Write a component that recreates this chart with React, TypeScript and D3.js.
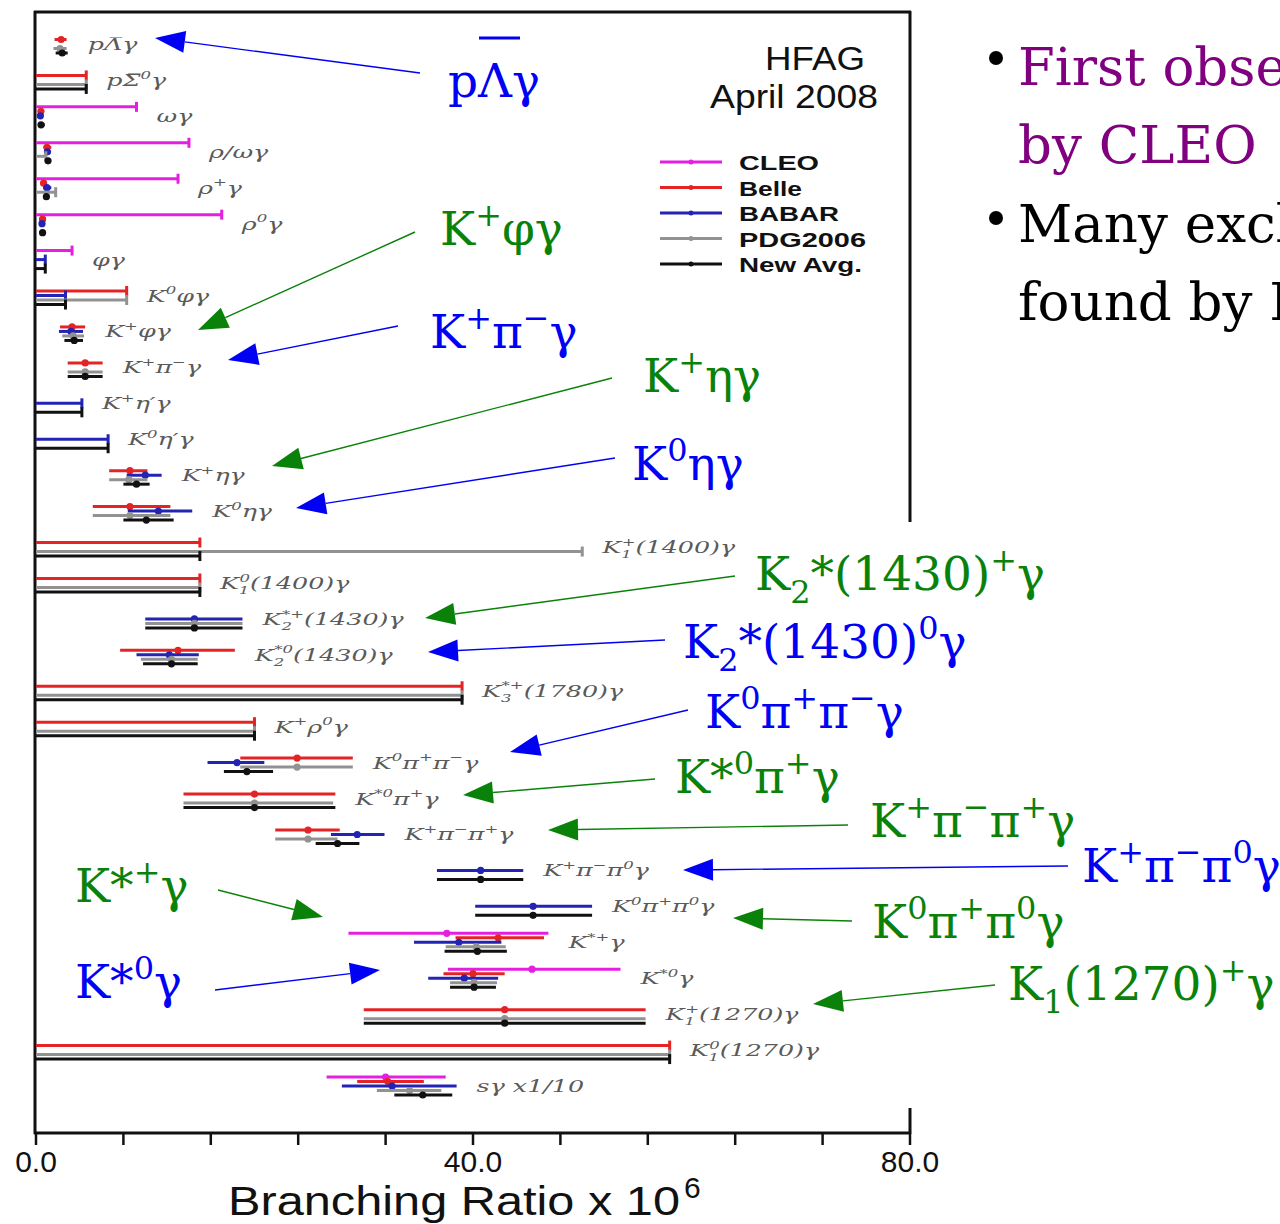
import React from 'react';
import * as d3 from 'd3';

type Pt = null | { v: number; lo: number; hi: number } | { ul: number };

const categories = [
  'pLambdaGamma', 'pSigma0Gamma', 'omegaGamma', 'rhoOmegaGamma', 'rhoPlusGamma', 'rho0Gamma', 'phiGamma',
  'K0phiGamma', 'KplusPhiGamma', 'KplusPiMinusGamma', 'KplusEtaPrimeGamma', 'K0EtaPrimeGamma',
  'KplusEtaGamma', 'K0EtaGamma', 'K1plus1400', 'K10_1400', 'K2starPlus1430', 'K2star0_1430',
  'K3starPlus1780', 'KplusRho0Gamma', 'K0PiPlusPiMinusGamma', 'Kstar0PiPlusGamma', 'KplusPiMinusPiPlusGamma',
  'KplusPiMinusPi0Gamma', 'K0PiPlusPi0Gamma', 'KstarPlusGamma', 'Kstar0Gamma', 'K1plus1270', 'K10_1270', 'sGamma',
];

const rowLabels = [
  'pΛ\u0305γ', 'pΣ\u0305^{0}γ', 'ωγ', 'ρ/ωγ', 'ρ^{+}γ', 'ρ^{0}γ', 'φγ',
  'K^{0}φγ', 'K^{+}φγ', 'K^{+}π^{−}γ', 'K^{+}η′γ', 'K^{0}η′γ',
  'K^{+}ηγ', 'K^{0}ηγ', 'K_{1}^{+}(1400)γ', 'K_{1}^{0}(1400)γ', 'K_{2}^{*+}(1430)γ', 'K_{2}^{*0}(1430)γ',
  'K_{3}^{*+}(1780)γ', 'K^{+}ρ^{0}γ', 'K^{0}π^{+}π^{−}γ', 'K^{*0}π^{+}γ', 'K^{+}π^{−}π^{+}γ',
  'K^{+}π^{−}π^{0}γ', 'K^{0}π^{+}π^{0}γ', 'K^{*+}γ', 'K^{*0}γ', 'K_{1}^{+}(1270)γ', 'K_{1}^{0}(1270)γ', 'sγ x1/10',
];

const cleo: Pt[] = [
  null, null, { ul: 9.2 }, { ul: 14 }, { ul: 13 }, { ul: 17 }, { ul: 3.3 },
  null, null, null, null, null, null, null, null, null, null, null, null, null, null, null, null, null, null,
  { v: 37.6, lo: 28.6, hi: 46.9 }, { v: 45.4, lo: 37.7, hi: 53.5 }, null, null,
  { v: 32.0, lo: 26.6, hi: 37.5 },
];

const belle: Pt[] = [
  { v: 2.3, lo: 1.7, hi: 2.8 }, { ul: 4.6 }, { v: 0.45, lo: 0.2, hi: 0.7 }, { v: 1.0, lo: 0.7, hi: 1.4 },
  { v: 0.7, lo: 0.4, hi: 1.0 }, { v: 0.6, lo: 0.3, hi: 0.9 }, null,
  { ul: 8.3 }, { v: 3.3, lo: 2.2, hi: 4.5 }, { v: 4.5, lo: 2.9, hi: 6.1 }, null, null,
  { v: 8.6, lo: 6.7, hi: 10.2 }, { v: 8.6, lo: 5.2, hi: 12.3 }, { ul: 15 }, { ul: 15 }, null,
  { v: 13.0, lo: 7.7, hi: 18.2 }, { ul: 39 }, { ul: 20 }, { v: 23.9, lo: 18.7, hi: 29.0 },
  { v: 20.0, lo: 13.5, hi: 27.4 }, { v: 24.9, lo: 21.9, hi: 27.8 }, null, null,
  { v: 42.3, lo: 38.4, hi: 46.5 }, { v: 40.0, lo: 37.3, hi: 42.9 }, { v: 42.9, lo: 30.0, hi: 55.8 },
  { ul: 58 }, { v: 32.2, lo: 29.4, hi: 35.5 },
];

const babar: Pt[] = [
  null, null, { v: 0.4, lo: 0.15, hi: 0.65 }, { v: 1.05, lo: 0.8, hi: 1.3 }, { v: 1.0, lo: 0.65, hi: 1.4 },
  { v: 0.55, lo: 0.35, hi: 0.8 }, { ul: 0.85 },
  { ul: 2.7 }, { v: 3.2, lo: 2.1, hi: 4.3 }, null, { ul: 4.2 }, { ul: 6.6 },
  { v: 10.0, lo: 8.3, hi: 11.5 }, { v: 11.2, lo: 8.4, hi: 14.3 }, null, null, { v: 14.5, lo: 10.0, hi: 18.9 },
  { v: 12.2, lo: 9.2, hi: 14.9 }, null, null, { v: 18.4, lo: 15.7, hi: 20.9 },
  null, { v: 29.4, lo: 27.0, hi: 31.9 }, { v: 40.7, lo: 36.7, hi: 44.6 }, { v: 45.5, lo: 40.2, hi: 50.9 },
  { v: 38.7, lo: 34.6, hi: 42.6 }, { v: 39.2, lo: 35.9, hi: 42.3 }, null, null,
  { v: 32.6, lo: 28.0, hi: 38.5 },
];

const pdg2006: Pt[] = [
  { v: 2.2, lo: 1.6, hi: 2.8 }, { ul: 4.6 }, null, { ul: 0.9 }, { ul: 1.8 }, null, null,
  { ul: 8.3 }, { v: 3.4, lo: 2.4, hi: 4.4 }, { v: 4.5, lo: 2.9, hi: 6.1 }, null, null,
  { v: 8.5, lo: 6.7, hi: 10.2 }, { v: 8.6, lo: 5.2, hi: 12.3 }, { ul: 50 }, { ul: 15 }, { v: 14.5, lo: 10.0, hi: 18.9 },
  { v: 12.4, lo: 9.6, hi: 14.8 }, { ul: 39 }, { ul: 20 }, { v: 23.9, lo: 18.7, hi: 29.0 },
  { v: 20.0, lo: 13.5, hi: 27.2 }, { v: 24.9, lo: 21.9, hi: 27.6 }, null, null,
  { v: 40.3, lo: 37.5, hi: 43.0 }, { v: 40.1, lo: 37.9, hi: 42.2 }, { v: 42.9, lo: 30.0, hi: 55.8 },
  { ul: 58 }, { v: 34.2, lo: 31.2, hi: 37.1 },
];

const newAvg: Pt[] = [
  { v: 2.4, lo: 1.8, hi: 2.9 }, { ul: 4.6 }, { v: 0.46, lo: 0.2, hi: 0.8 }, { v: 1.1, lo: 0.85, hi: 1.35 },
  { v: 0.95, lo: 0.7, hi: 1.2 }, { v: 0.6, lo: 0.45, hi: 0.8 }, { ul: 0.85 },
  { ul: 2.7 }, { v: 3.5, lo: 2.6, hi: 4.3 }, { v: 4.5, lo: 2.9, hi: 6.1 }, { ul: 4.2 }, { ul: 6.6 },
  { v: 9.2, lo: 8.0, hi: 10.4 }, { v: 10.1, lo: 8.0, hi: 12.6 }, { ul: 15 }, { ul: 15 }, { v: 14.5, lo: 10.0, hi: 18.9 },
  { v: 12.4, lo: 9.8, hi: 14.8 }, { ul: 39 }, { ul: 20 }, { v: 19.3, lo: 17.2, hi: 21.7 },
  { v: 20.0, lo: 13.5, hi: 27.4 }, { v: 27.6, lo: 25.6, hi: 29.6 }, { v: 40.7, lo: 36.7, hi: 44.6 },
  { v: 45.5, lo: 40.2, hi: 50.9 }, { v: 40.4, lo: 37.4, hi: 43.1 }, { v: 40.1, lo: 37.9, hi: 42.1 },
  { v: 42.9, lo: 30.0, hi: 55.8 }, { ul: 58 }, { v: 35.4, lo: 32.8, hi: 38.1 },
];

const seriesNames = ['CLEO', 'Belle', 'BABAR', 'PDG2006', 'New Avg.'];
const seriesData = [cleo, belle, babar, pdg2006, newAvg];
const xDomain = [0, 80];
const xTickStep = 8;
const xTickLabels = [0, 40, 80];

// ---- styling / layout (not data) ----
const seriesColors = ['#e41fe0', '#e42424', '#2424b4', '#929292', '#111111'];
const seriesOffsets = [-9, -4.5, 0, 4.5, 9];
const legendWidths = [80, 63, 100, 127, 123];
const GREEN = '#0a820a';
const BLUE = '#0000f5';
const ANN_FS = 47;

const annotations = [
  { t: 'pΛγ', c: BLUE, x: 448, y: 97, from: [420, 73], to: [155, 38], over: true },
  { t: 'K^{+}φγ', c: GREEN, x: 440, y: 245, from: [415, 232], to: [198, 330] },
  { t: 'K^{+}π^{−}γ', c: BLUE, x: 430, y: 348, from: [398, 326], to: [228, 360] },
  { t: 'K^{+}ηγ', c: GREEN, x: 643, y: 392, from: [612, 378], to: [272, 466] },
  { t: 'K^{0}ηγ', c: BLUE, x: 632, y: 480, from: [615, 458], to: [296, 508] },
  { t: 'K_{2}*(1430)^{+}γ', c: GREEN, x: 755, y: 590, from: [735, 576], to: [425, 618] },
  { t: 'K_{2}*(1430)^{0}γ', c: BLUE, x: 683, y: 658, from: [665, 640], to: [428, 652] },
  { t: 'K^{0}π^{+}π^{−}γ', c: BLUE, x: 705, y: 728, from: [688, 710], to: [510, 752] },
  { t: 'K*^{0}π^{+}γ', c: GREEN, x: 675, y: 793, from: [655, 779], to: [463, 795] },
  { t: 'K^{+}π^{−}π^{+}γ', c: GREEN, x: 870, y: 837, from: [848, 825], to: [548, 830] },
  { t: 'K^{+}π^{−}π^{0}γ', c: BLUE, x: 1082, y: 882, from: [1068, 866], to: [683, 870] },
  { t: 'K^{0}π^{+}π^{0}γ', c: GREEN, x: 872, y: 938, from: [852, 921], to: [733, 918] },
  { t: 'K_{1}(1270)^{+}γ', c: GREEN, x: 1008, y: 1000, from: [995, 985], to: [813, 1004] },
  { t: 'K*^{+}γ', c: GREEN, x: 75, y: 902, from: [218, 890], to: [323, 917] },
  { t: 'K*^{0}γ', c: BLUE, x: 75, y: 998, from: [215, 990], to: [380, 970] },
];

function parseMarkup(text: string) {
  return text.split(/(\^\{[^}]*\}|_\{[^}]*\})/).filter((p) => p.length > 0).map((p) => {
    if (p.startsWith('^{')) return { kind: 'sup', t: p.slice(2, -1) };
    if (p.startsWith('_{')) return { kind: 'sub', t: p.slice(2, -1) };
    return { kind: 'n', t: p };
  });
}

function Markup(props: { text: string; fs: number; supScale?: number; supRise?: number; subDrop?: number; cw?: number }) {
  const { text, fs } = props;
  const supScale = props.supScale ?? 0.65;
  const supRise = props.supRise ?? 0.42;
  const subDrop = props.subDrop ?? 0.3;
  const cw = props.cw ?? 0.6;
  const parts = parseMarkup(text);
  let cur = 0;
  let prevKind = 'n';
  let subLen = 0;
  let supLen = 0;
  let stacked = false;
  return (
    <>
      {parts.map((p, i) => {
        const target = p.kind === 'sup' ? -supRise * fs : p.kind === 'sub' ? subDrop * fs : 0;
        const dy = target - cur;
        cur = target;
        const size = p.kind === 'n' ? fs : fs * supScale;
        const len = p.t.length * size * cw;
        let dx = 0;
        if (p.kind === 'sup' && prevKind === 'sub') {
          dx = -subLen;
          stacked = true;
          supLen = len;
        } else if (p.kind === 'n' && stacked) {
          dx = Math.max(0, subLen - supLen);
          stacked = false;
        }
        if (p.kind === 'sub') subLen = len;
        prevKind = p.kind;
        return (
          <tspan key={i} dy={dy} dx={dx} fontSize={size}>
            {p.t}
          </tspan>
        );
      })}
    </>
  );
}

function Arrow({ from, to, color }: { from: number[]; to: number[]; color: string }) {
  const dx = to[0] - from[0];
  const dy = to[1] - from[1];
  const L = Math.sqrt(dx * dx + dy * dy);
  const ux = dx / L;
  const uy = dy / L;
  const hl = 30;
  const hw = 11;
  const bx = to[0] - ux * hl;
  const by = to[1] - uy * hl;
  const px = -uy;
  const py = ux;
  const pts = [
    [to[0], to[1]],
    [bx + px * hw, by + py * hw],
    [bx - px * hw, by - py * hw],
  ];
  return (
    <g>
      <line x1={from[0]} y1={from[1]} x2={bx} y2={by} stroke={color} strokeWidth={1.4} />
      <polygon points={pts.map((q) => q.join(',')).join(' ')} fill={color} />
    </g>
  );
}

export default function App() {
  const W = 1280;
  const H = 1224;
  const x = d3.scaleLinear().domain(xDomain).range([36, 910]);
  const y = d3.scalePoint<string>().domain(categories).range([44, 1086]);
  const ticks = d3.range(xDomain[0], xDomain[1] + 0.001, xTickStep);
  const axisY = 1133;

  const rowMax = categories.map((_, i) =>
    d3.max(seriesData, (s) => {
      const p = s[i];
      if (!p) return 0;
      return 'ul' in p ? p.ul : p.hi;
    }) as number,
  );

  return (
    <svg width={W} height={H} style={{ position: 'absolute', left: 0, top: 0, background: '#fff' }}>
      <rect x={0} y={0} width={W} height={H} fill="#fff" />
      {/* frame */}
      <line x1={34} y1={12} x2={911} y2={12} stroke="#111" strokeWidth={3} />
      <line x1={35} y1={11} x2={35} y2={axisY + 1} stroke="#111" strokeWidth={3} />
      <line x1={910} y1={11} x2={910} y2={522} stroke="#111" strokeWidth={3} />
      <line x1={910} y1={1108} x2={910} y2={axisY + 1} stroke="#111" strokeWidth={3} />
      <line x1={34} y1={axisY} x2={911} y2={axisY} stroke="#111" strokeWidth={3} />
      {ticks.map((t) => (
        <line key={t} x1={x(t)} x2={x(t)} y1={axisY} y2={axisY + 12} stroke="#111" strokeWidth={2.5} />
      ))}
      {xTickLabels.map((t) => (
        <text key={t} x={x(t)} y={1172} textAnchor="middle" fontFamily="Liberation Sans, Arial, sans-serif" fontSize={30} fill="#111">
          {t.toFixed(1)}
        </text>
      ))}
      <text x={228} y={1215} fontFamily="Liberation Sans, Arial, sans-serif" fontSize={40} fill="#111" textLength={452} lengthAdjust="spacingAndGlyphs">
        Branching Ratio x 10
      </text>
      <text x={684} y={1198} fontFamily="Liberation Sans, Arial, sans-serif" fontSize={30} fill="#111">6</text>

      {/* data */}
      {seriesData.map((s, si) => (
        <g key={seriesNames[si]}>
          {s.map((p, i) => {
            if (!p) return null;
            const yy = (y(categories[i]) as number) + seriesOffsets[si];
            const col = seriesColors[si];
            if ('ul' in p) {
              return (
                <g key={i}>
                  <line x1={x(0)} x2={x(p.ul)} y1={yy} y2={yy} stroke={col} strokeWidth={3} />
                  <line x1={x(p.ul)} x2={x(p.ul)} y1={yy - 5} y2={yy + 5} stroke={col} strokeWidth={3} />
                </g>
              );
            }
            return (
              <g key={i}>
                <line x1={x(p.lo)} x2={x(p.hi)} y1={yy} y2={yy} stroke={col} strokeWidth={3} />
                <circle cx={x(p.v)} cy={yy} r={3.6} fill={col} />
              </g>
            );
          })}
        </g>
      ))}

      {/* row labels */}
      {categories.map((c, i) => {
        const lx = x(rowMax[i]) + 20;
        const ly = (y(c) as number) + 6;
        return (
          <text
            key={c}
            transform={`translate(${lx},${ly}) scale(1.45,1)`}
            fontFamily="DejaVu Serif, serif"
            fontStyle="italic"
            fontSize={17.5}
            fill="#5a5a5a"
          >
            <Markup text={rowLabels[i]} fs={17.5} />
          </text>
        );
      })}

      {/* HFAG */}
      <text x={765} y={70} fontFamily="Liberation Sans, Arial, sans-serif" fontSize={34} fill="#111" textLength={100} lengthAdjust="spacingAndGlyphs">HFAG</text>
      <text x={710} y={108} fontFamily="Liberation Sans, Arial, sans-serif" fontSize={33} fill="#111" textLength={168} lengthAdjust="spacingAndGlyphs">April 2008</text>

      {/* legend */}
      {seriesNames.map((n, i) => {
        const ly = 162 + i * 25.5;
        return (
          <g key={n}>
            <line x1={660} x2={722} y1={ly} y2={ly} stroke={seriesColors[i]} strokeWidth={3} />
            <circle cx={691} cy={ly} r={2.5} fill={seriesColors[i]} />
            <text x={739} y={ly + 8} fontFamily="Liberation Sans, Arial, sans-serif" fontWeight="bold" fontSize={21} fill="#111" textLength={legendWidths[i]} lengthAdjust="spacingAndGlyphs">
              {n}
            </text>
          </g>
        );
      })}

      {/* annotations */}
      {annotations.map((a, i) => (
        <g key={i}>
          <Arrow from={a.from} to={a.to} color={a.c} />
          <text x={a.x} y={a.y} fontFamily="DejaVu Serif, serif" fontSize={ANN_FS} fill={a.c}>
            <Markup text={a.t} fs={ANN_FS} supScale={0.68} supRise={0.4} subDrop={0.28} cw={0.62} />
          </text>
          {a.over ? <line x1={a.x + 31} x2={a.x + 72} y1={a.y - 59} y2={a.y - 59} stroke={a.c} strokeWidth={3} /> : null}
        </g>
      ))}

      {/* right-hand slide text (cropped at the right edge, as in the source slide) */}
      <circle cx={996} cy={58} r={7} fill="#000" />
      <text x={1018} y={85} fontFamily="DejaVu Serif, serif" fontSize={53} fill="#800080">First observation</text>
      <text x={1018} y={163} fontFamily="DejaVu Serif, serif" fontSize={53} fill="#800080">by CLEO</text>
      <circle cx={996} cy={218} r={7} fill="#000" />
      <text x={1018} y={242} fontFamily="DejaVu Serif, serif" fontSize={53} fill="#000">Many exclusive modes</text>
      <text x={1018} y={320} fontFamily="DejaVu Serif, serif" fontSize={53} fill="#000">found by B-factories</text>
    </svg>
  );
}
